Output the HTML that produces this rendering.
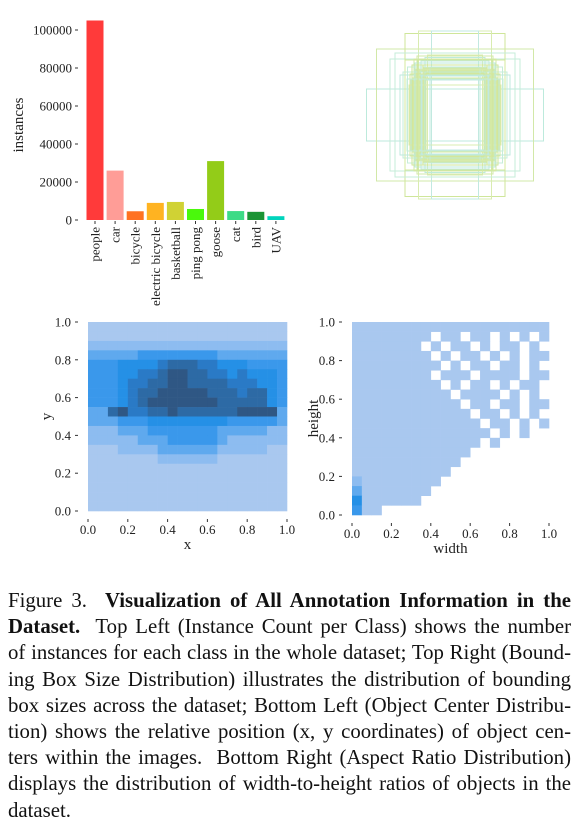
<!DOCTYPE html>
<html><head><meta charset="utf-8"><style>
html,body{margin:0;padding:0;background:#fff;width:578px;height:830px;overflow:hidden}
svg{position:absolute;left:0;top:0}
#cap{position:absolute;left:8px;top:588px;width:563px;font-family:"Liberation Serif",serif;font-size:20.8px;line-height:26.2px;color:#111}
#cap div{text-align:justify;text-align-last:justify;white-space:nowrap}
#cap div.last{text-align-last:left}
</style></head><body>
<svg id="fig" width="578" height="580" xmlns="http://www.w3.org/2000/svg" font-family="Liberation Serif, serif"></svg>
<div id="cap">
<div>Figure 3.&nbsp; <b>Visualization of All Annotation Information in the</b></div>
<div><b>Dataset.</b>&nbsp; Top Left (Instance Count per Class) shows the number</div>
<div>of instances for each class in the whole dataset; Top Right (Bound-</div>
<div>ing Box Size Distribution) illustrates the distribution of bounding</div>
<div>box sizes across the dataset; Bottom Left (Object Center Distribu-</div>
<div>tion) shows the relative position (x, y coordinates) of object cen-</div>
<div>ters within the images.&nbsp; Bottom Right (Aspect Ratio Distribution)</div>
<div>displays the distribution of width-to-height ratios of objects in the</div>
<div class="last">dataset.</div>
</div>
<script>
const categories=["people","car","bicycle","electric bicycle","basketball","ping pong","goose","cat","bird","UAV"];
const counts=[105000,26000,4600,9000,9500,5800,31000,4700,4300,2000];
const barColors=["#ff3a3a","#ff9d97","#ff7222","#ffb321","#d0d234","#4af90c","#93cc18","#3ddb86","#1b9435","#00d4bc"];
const yTicks=[0,20000,40000,60000,80000,100000];
const unitTicks=[0,0.2,0.4,0.6,0.8,1.0];
const boxW=[177,157,130,100,73,47,100,60,82,95,70,55,88,64,110,78,120,58,92,68,84,50,76,104,86,72,66,90,80,62,96,74];
const boxH=[52,132,112,163,168,168,110,115,112,96,88,120,70,100,80,92,124,84,60,108,74,96,118,86,100,90,78,82,104,94,72,110];
const boxColors=["#bdeadc","#d2e8a8","#c6ecd9","#cfe69a","#d9ecb0","#c2e9e0","#d6e89c"];
const centerGrid=["11111111111111111111","11111111111111111111","22222222222222222222","33333444444443333333","44455556777665554444","44455667887766565554","44456677887777666554","44456778888877767754","44456788888887777754","33786677877777788883","33344455555555444443","22233344444443333322","22222333444443222222","11122223333332222211","11111112222221111111","11111111111111111111","11111111111111111111","11111111111111111111","11111111111111111111","11111111111111111111"];
const sizeGrid=["11111111111111111111","11111111011011010101","11111110101101011010","11111111010110101011","11111111101011011010","11111111011101111011","11111111101011010110","11111111110111101010","11111111111011011011","11111111111101101010","11111111111110110101","11111111111111010100","11111111111110100000","11111111111100000000","11111111111000000000","11111111110000000000","21111111100000000000","31111111000000000000","51111110000000000000","41100000000000000000"];
const levelColors=["#ffffff","#a9c8ef","#8dbcf0","#5fa9ee","#3a98eb","#2590e6","#2a7ac6","#2d6aa5","#2f5784","#2f4a6b"];

const svg=document.getElementById('fig');
const NS="http://www.w3.org/2000/svg";
function mk(tag,attrs,parent){const e=document.createElementNS(NS,tag);for(const k in attrs)e.setAttribute(k,attrs[k]);(parent||svg).appendChild(e);return e;}

// ---- bar chart ----
const gBar=mk('g',{});


const by=v=>220-v*0.0019;
const bx=i=>95+i*20.1;
yTicks.forEach(t=>{
  const l=mk('line',{x1:75,x2:78,y1:by(t),y2:by(t),stroke:'#333','stroke-width':1},gBar);
  
  
  const tx=mk('text',{x:72,y:by(t)+4.5,'text-anchor':'end','font-size':13,fill:'#222'},gBar);
  tx.textContent=t;
  
  
});
categories.forEach((c,i)=>{
  const r=mk('rect',{x:bx(i)-8.5,y:by(counts[i]),width:17,height:220-by(counts[i]),fill:barColors[i]},gBar);
  
  
  const tk=mk('line',{x1:bx(i),x2:bx(i),y1:221,y2:224,stroke:'#333'},gBar);
  
  
  const t=mk('text',{x:0,y:0,'text-anchor':'end','font-size':13,fill:'#222',transform:`translate(${bx(i)+4.5},227) rotate(-90)`},gBar);
  t.textContent=c;
  
  
});
const yl=mk('text',{x:0,y:0,'text-anchor':'middle','font-size':15,fill:'#222',transform:'translate(23,125) rotate(-90)'},gBar);
yl.textContent='instances';



// ---- bbox overlay ----
const gBox=mk('g',{});


boxW.forEach((w,i)=>{
  const h=boxH[i];
  const r=mk('rect',{x:455-w/2,y:115-h/2,width:w,height:h,fill:'none',stroke:boxColors[i%boxColors.length],'stroke-width':1},gBox);
  
  
});

// ---- heatmaps ----
function heat(grid,x0,x1,yTop,yBot,name,xlab,ylab,ylx){
  const g=mk('g',{});
  
  
  const n=grid[0].length, m=grid.length;
  const cw=(x1-x0)/n, ch=(yBot-yTop)/m;
  grid.forEach((row,ri)=>{
    for(let ci=0;ci<n;ci++){
      const v=+row[ci]; if(!v) continue;
      const r=mk('rect',{x:x0+ci*cw,y:yTop+ri*ch,width:cw+0.3,height:ch+0.3,fill:levelColors[v]},g);
      
      
    }
  });
  unitTicks.forEach(t=>{
    const yy=yBot-t*(yBot-yTop), xx=x0+t*(x1-x0);
    const a=mk('text',{x:x0-17,y:yy+4.5,'text-anchor':'end','font-size':13,fill:'#222'},g);
    a.textContent=t.toFixed(1);
    
    
    const l=mk('line',{x1:x0-13,x2:x0-10,y1:yy,y2:yy,stroke:'#333'},g);
    
    
    const b=mk('text',{x:xx,y:yBot+23,'text-anchor':'middle','font-size':13,fill:'#222'},g);
    b.textContent=t.toFixed(1);
    
    
    const l2=mk('line',{x1:xx,x2:xx,y1:yBot+8,y2:yBot+11,stroke:'#333'},g);
    
    
  });
  const xl=mk('text',{x:(x0+x1)/2,y:yBot+38,'text-anchor':'middle','font-size':15,fill:'#222'},g);
  xl.textContent=xlab;
  
  
  const yl2=mk('text',{x:0,y:0,'text-anchor':'middle','font-size':15,fill:'#222',transform:`translate(${ylx},${(yTop+yBot)/2}) rotate(-90)`},g);
  yl2.textContent=ylab;
  
  
}
heat(centerGrid,88,287,322,511,'object-center-heatmap','x','y',51);
heat(sizeGrid,352,549,322,515,'aspect-ratio-heatmap','width','height',318);
</script>
</body></html>
